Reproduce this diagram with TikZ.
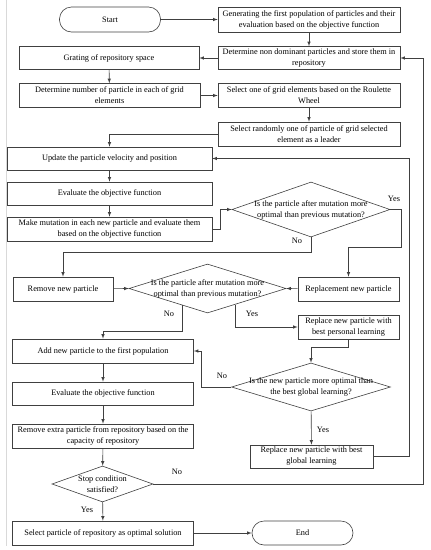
\documentclass[tikz,border=0pt]{standalone}
\usepackage{fontspec}
\setmainfont{Liberation Serif}
\usetikzlibrary{shapes.geometric,arrows,calc}
\tikzset{
  box/.style={draw=black!75, line width=0.6pt, rectangle, inner sep=1pt, align=center},
  terminal/.style={box, rounded corners=12pt},
  decision/.style={draw=black!75, line width=0.6pt, diamond, inner sep=0pt},
  qtext/.style={align=center, inner sep=0pt},
  lbl/.style={inner sep=0pt},
  flow/.style={draw=black!75, line width=0.6pt, -latex},
}
\begin{document}
\begin{tikzpicture}[x=1pt,y=-1pt,font=\fontsize{8.3}{11}\selectfont]
%
\useasboundingbox (0,0) rectangle (431,550);
\draw[black!15, line width=0.8pt] (6,0) -- (6,546);
%
\node[terminal, minimum width=101, minimum height=25] (start) at (110,19.5) {Start};
\node[box, minimum width=182, minimum height=25] (gen) at (309,19.5) {Generating the first population of particles and their\\evaluation based on the objective function};
\node[box, minimum width=182, minimum height=23] (nondom) at (309,58) {Determine non dominant particles and store them in\\repository};
\node[box, minimum width=180, minimum height=23] (grating) at (109,58) {Grating of repository space};
\node[box, minimum width=181, minimum height=24] (number) at (109.5,95.5) {Determine number of particle in each of grid\\elements};
\node[box, minimum width=182, minimum height=24] (roulette) at (309,95.5) {Select one of grid elements based on the Roulette\\Wheel};
\node[box, minimum width=182, minimum height=24] (leader) at (309,134) {Select randomly one of particle of grid selected\\element as a leader};
\node[box, minimum width=205, minimum height=23] (update) at (109.5,158.5) {Update the particle velocity and position};
\node[box, minimum width=205, minimum height=23] (eval1) at (109.5,193.5) {Evaluate the objective function};
\node[box, minimum width=205, minimum height=24] (mutate) at (109.5,229) {Make mutation in each new particle and evaluate them\\based on the objective function};
%
\node[decision, minimum width=158, minimum height=55] (dec1) at (311,209.5) {};
\node[qtext] (dec1t) at (dec1) {Is the particle after mutation more\\optimal than previous mutation?};
%
\node[box, minimum width=100, minimum height=24] (remove) at (63,289) {Remove new particle};
\node[decision, minimum width=157, minimum height=49] (dec2) at (207.5,288.5) {};
\node[qtext] (dec2t) at (dec2) {Is the particle after mutation more\\optimal than previous mutation?};
\node[box, minimum width=101, minimum height=24] (replace) at (348.5,289) {Replacement new particle};
\node[box, minimum width=101, minimum height=24] (personal) at (348.5,327) {Replace new particle with\\best personal learning};
%
\node[box, minimum width=181, minimum height=24] (add) at (103,351) {Add new particle to the first population};
\node[decision, minimum width=159, minimum height=48] (dec3) at (311,387) {};
\node[qtext] (dec3t) at (dec3) {Is the new particle more optimal than\\the best global learning?};
\node[box, minimum width=181, minimum height=23] (eval2) at (103,393.5) {Evaluate the objective function};
\node[box, minimum width=181, minimum height=24] (extra) at (103,436) {Remove extra particle from repository based on the\\capacity of repository};
\node[box, minimum width=123, minimum height=23] (global) at (311.5,456.5) {Replace new particle with best\\global learning};
\node[decision, minimum width=101, minimum height=36] (stop) at (102.5,484) {};
\node[qtext] (stopt) at (stop) {Stop condition\\satisfied?};
\node[box, minimum width=181, minimum height=24] (select) at (103,533) {Select particle of repository as optimal solution};
\node[terminal, minimum width=101, minimum height=24] (end) at (302.5,533) {End};
%
\draw[flow] (start) -- (gen);
\draw[flow] (gen) -- (nondom);
\draw[flow] (nondom) -- (grating);
\draw[flow] (grating) -- (number);
\draw[flow] (number) -- (roulette);
\draw[flow] (roulette) -- (leader);
\draw[flow] (leader.west) -| (update.north);
\draw[flow] (update) -- (eval1);
\draw[flow] (eval1) -- (mutate);
\draw[flow] (mutate.east) -- ++(8,0) |- (dec1.west);
\draw[flow] (dec1.east) -- ++(11,0) -- ++(0,37.5) -| (replace.north);
\draw[flow] (dec1.south) -- ++(0,15) -| (remove.north);
\draw[flow] (remove) -- (dec2.west);
\draw[flow] (replace) -- (dec2.east);
\draw[flow] ($(dec2.south)!.325!(dec2.west)$) -- ++(0,26) -| (add.north);
\draw[flow] ($(dec2.south)!.35!(dec2.east)$) |- (personal.west);
\draw[flow] (personal.south) -- ++(0,8) -| (dec3.north);
\draw[flow] (dec3.west) -- ++(-30,0) |- (add.east);
\draw[flow] (dec3) -- (global);
\draw[flow] (global.east) -- ++(36,0) |- (update.east);
\draw[flow] (add) -- (eval2);
\draw[flow] (eval2) -- (extra);
\draw[flow] (extra) -- (stop);
\draw[flow] (stop.east) -- ++(270,0) |- (nondom.east);
\draw[flow] (stop) -- (select);
\draw[flow] (select) -- (end);
%
\node[lbl] (y1) at (394,199) {Yes};
\node[lbl] (n1) at (297,241) {No};
\node[lbl] (n2) at (169,314) {No};
\node[lbl] (y2) at (252,314) {Yes};
\node[lbl] (n3) at (222,376) {No};
\node[lbl] (y3) at (323,430) {Yes};
\node[lbl] (n4) at (177,472) {No};
\node[lbl] (y4) at (87,510) {Yes};
%
\end{tikzpicture}
\end{document}
